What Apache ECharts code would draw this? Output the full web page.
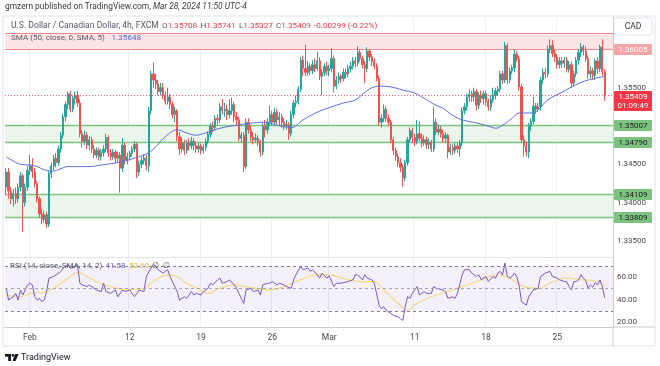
<!DOCTYPE html>
<html><head><meta charset="utf-8">
<script src="https://cdn.jsdelivr.net/npm/echarts@6/dist/echarts.min.js"></script>
<style>html,body{margin:0;padding:0;background:#fff}#c{width:660px;height:366px}</style>
</head><body><div id="c"></div>
<script>
// ---- data ----
// each candle: [open, high, low, close], 4h bars from Tue Jan 30 09:00 to Thu Mar 28 09:00 (UTC-4)
const candles = [
[1.3420,1.3445,1.3410,1.3440],[1.3440,1.3445,1.3405,1.3415],[1.3415,1.3420,1.3398,1.3405],[1.3405,1.3418,1.3395,1.3412],[1.3412,1.3420,1.3398,1.3405],
[1.3405,1.3425,1.3400,1.3420],[1.3420,1.3440,1.3415,1.3435],[1.3435,1.3438,1.3362,1.3400],[1.3400,1.3425,1.3395,1.3420],[1.3420,1.3448,1.3415,1.3442],
[1.3442,1.3462,1.3436,1.3448],[1.3448,1.3458,1.3432,1.3440],[1.3440,1.3445,1.3420,1.3425],[1.3425,1.3428,1.3400,1.3405],[1.3405,1.3408,1.3380,1.3385],
[1.3385,1.3392,1.3372,1.3378],[1.3378,1.3390,1.3374,1.3384],[1.3384,1.3388,1.3367,1.3372],[1.3372,1.3442,1.3368,1.3438],[1.3438,1.3452,1.3432,1.3448],
[1.3448,1.3462,1.3442,1.3458],[1.3458,1.3465,1.3446,1.3452],[1.3452,1.3474,1.3448,1.3470],[1.3470,1.3492,1.3465,1.3488],[1.3488,1.3516,1.3484,1.3512],
[1.3512,1.3532,1.3506,1.3528],[1.3528,1.3545,1.3522,1.3542],[1.3542,1.3546,1.3518,1.3522],[1.3522,1.3540,1.3518,1.3536],[1.3536,1.3545,1.3528,1.3540],
[1.3540,1.3546,1.3525,1.3530],[1.3530,1.3535,1.3485,1.3490],[1.3490,1.3495,1.3472,1.3480],[1.3480,1.3494,1.3475,1.3488],[1.3488,1.3492,1.3470,1.3475],
[1.3475,1.3487,1.3468,1.3482],[1.3482,1.3486,1.3465,1.3470],[1.3470,1.3475,1.3458,1.3462],[1.3462,1.3472,1.3458,1.3468],[1.3468,1.3472,1.3455,1.3460],
[1.3460,1.3470,1.3455,1.3465],[1.3465,1.3475,1.3460,1.3470],[1.3470,1.3490,1.3466,1.3485],[1.3485,1.3488,1.3460,1.3465],[1.3465,1.3470,1.3455,1.3460],
[1.3460,1.3470,1.3456,1.3466],[1.3466,1.3469,1.3452,1.3458],[1.3458,1.3467,1.3453,1.3462],[1.3462,1.3466,1.3413,1.3445],[1.3445,1.3484,1.3440,1.3475],
[1.3475,1.3478,1.3450,1.3455],[1.3455,1.3465,1.3450,1.3460],[1.3460,1.3468,1.3455,1.3464],[1.3464,1.3474,1.3460,1.3470],[1.3470,1.3480,1.3466,1.3476],
[1.3476,1.3478,1.3432,1.3440],[1.3440,1.3455,1.3435,1.3450],[1.3450,1.3460,1.3445,1.3455],[1.3455,1.3463,1.3450,1.3458],[1.3458,1.3462,1.3442,1.3448],
[1.3448,1.3525,1.3440,1.3520],[1.3520,1.3572,1.3515,1.3568],[1.3568,1.3583,1.3550,1.3560],[1.3560,1.3568,1.3548,1.3555],[1.3555,1.3560,1.3540,1.3545],
[1.3545,1.3556,1.3540,1.3550],[1.3550,1.3556,1.3535,1.3540],[1.3540,1.3545,1.3528,1.3532],[1.3532,1.3550,1.3528,1.3538],[1.3538,1.3542,1.3522,1.3528],
[1.3528,1.3532,1.3510,1.3515],[1.3515,1.3525,1.3505,1.3520],[1.3520,1.3522,1.3480,1.3486],[1.3486,1.3492,1.3462,1.3470],
[1.3470,1.3485,1.3465,1.3478],[1.3478,1.3482,1.3462,1.3468],[1.3468,1.3482,1.3464,1.3478],[1.3478,1.3484,1.3468,1.3474],[1.3474,1.3486,1.3470,1.3480],
[1.3480,1.3484,1.3468,1.3475],[1.3475,1.3480,1.3465,1.3470],[1.3470,1.3478,1.3465,1.3474],[1.3474,1.3477,1.3463,1.3468],[1.3468,1.3476,1.3464,1.3472],
[1.3472,1.3484,1.3468,1.3480],[1.3480,1.3493,1.3476,1.3489],[1.3489,1.3504,1.3485,1.3500],[1.3500,1.3506,1.3492,1.3498],[1.3498,1.3514,1.3494,1.3510],
[1.3510,1.3515,1.3502,1.3508],[1.3508,1.3530,1.3504,1.3525],[1.3525,1.3535,1.3515,1.3520],[1.3520,1.3530,1.3512,1.3522],[1.3522,1.3528,1.3508,1.3515],
[1.3515,1.3535,1.3510,1.3520],[1.3520,1.3537,1.3515,1.3528],[1.3528,1.3532,1.3505,1.3512],[1.3512,1.3518,1.3500,1.3508],[1.3508,1.3512,1.3480,1.3484],
[1.3484,1.3492,1.3478,1.3488],[1.3488,1.3492,1.3440,1.3447],[1.3447,1.3510,1.3444,1.3505],[1.3505,1.3510,1.3490,1.3495],[1.3495,1.3500,1.3480,1.3486],
[1.3486,1.3492,1.3476,1.3482],[1.3482,1.3490,1.3478,1.3484],[1.3484,1.3488,1.3474,1.3478],[1.3478,1.3482,1.3460,1.3466],[1.3466,1.3504,1.3462,1.3500],
[1.3500,1.3508,1.3485,1.3495],[1.3495,1.3510,1.3490,1.3505],[1.3505,1.3527,1.3500,1.3515],[1.3515,1.3520,1.3500,1.3505],[1.3505,1.3524,1.3500,1.3518],
[1.3518,1.3522,1.3502,1.3508],[1.3508,1.3518,1.3500,1.3512],[1.3512,1.3516,1.3498,1.3505],[1.3505,1.3510,1.3495,1.3500],[1.3500,1.3508,1.3495,1.3502],
[1.3502,1.3505,1.3482,1.3490],[1.3490,1.3520,1.3486,1.3515],[1.3515,1.3534,1.3510,1.3530],[1.3530,1.3540,1.3524,1.3532],[1.3532,1.3552,1.3528,1.3548],
[1.3548,1.3590,1.3544,1.3586],[1.3586,1.3592,1.3565,1.3575],[1.3575,1.3606,1.3565,1.3570],[1.3570,1.3585,1.3566,1.3578],[1.3578,1.3582,1.3566,1.3572],
[1.3572,1.3586,1.3568,1.3580],[1.3580,1.3588,1.3570,1.3575],[1.3575,1.3597,1.3572,1.3585],[1.3585,1.3590,1.3560,1.3565],[1.3565,1.3574,1.3540,1.3570],
[1.3570,1.3582,1.3565,1.3578],[1.3578,1.3584,1.3566,1.3572],[1.3572,1.3580,1.3565,1.3575],[1.3575,1.3602,1.3570,1.3588],[1.3588,1.3592,1.3544,1.3552],
[1.3552,1.3565,1.3548,1.3560],[1.3560,1.3570,1.3555,1.3565],[1.3565,1.3568,1.3556,1.3562],[1.3562,1.3575,1.3558,1.3570],[1.3570,1.3575,1.3562,1.3568],
[1.3568,1.3580,1.3564,1.3575],[1.3575,1.3584,1.3570,1.3578],[1.3578,1.3590,1.3574,1.3585],[1.3585,1.3590,1.3576,1.3582],[1.3582,1.3604,1.3578,1.3596],
[1.3596,1.3600,1.3584,1.3588],[1.3588,1.3592,1.3575,1.3580],[1.3580,1.3585,1.3556,1.3575],[1.3575,1.3603,1.3570,1.3598],[1.3598,1.3600,1.3585,1.3590],
[1.3590,1.3594,1.3578,1.3584],[1.3584,1.3588,1.3574,1.3578],[1.3578,1.3582,1.3558,1.3562],[1.3562,1.3566,1.3500,1.3505],[1.3505,1.3515,1.3498,1.3510],
[1.3510,1.3528,1.3505,1.3522],[1.3522,1.3526,1.3505,1.3510],[1.3510,1.3515,1.3500,1.3505],[1.3505,1.3508,1.3478,1.3482],[1.3482,1.3486,1.3462,1.3468],
[1.3468,1.3472,1.3455,1.3460],[1.3460,1.3464,1.3446,1.3452],[1.3452,1.3458,1.3440,1.3446],[1.3446,1.3450,1.3421,1.3432],[1.3432,1.3456,1.3428,1.3452],
[1.3452,1.3486,1.3448,1.3482],[1.3482,1.3498,1.3478,1.3494],[1.3494,1.3498,1.3478,1.3485],[1.3485,1.3490,1.3474,1.3480],[1.3480,1.3508,1.3476,1.3490],
[1.3490,1.3506,1.3480,1.3484],[1.3484,1.3490,1.3472,1.3478],[1.3478,1.3488,1.3474,1.3482],[1.3482,1.3486,1.3470,1.3476],[1.3476,1.3484,1.3470,1.3479],
[1.3479,1.3482,1.3466,1.3470],[1.3470,1.3525,1.3466,1.3505],[1.3505,1.3510,1.3488,1.3492],[1.3492,1.3502,1.3488,1.3496],[1.3496,1.3500,1.3485,1.3490],
[1.3490,1.3495,1.3478,1.3484],[1.3484,1.3492,1.3478,1.3488],[1.3488,1.3490,1.3458,1.3466],[1.3466,1.3477,1.3462,1.3472],[1.3472,1.3476,1.3462,1.3468],
[1.3468,1.3478,1.3464,1.3474],[1.3474,1.3478,1.3465,1.3470],[1.3470,1.3482,1.3460,1.3478],[1.3478,1.3524,1.3474,1.3520],[1.3520,1.3530,1.3515,1.3525],
[1.3525,1.3542,1.3520,1.3538],[1.3538,1.3548,1.3532,1.3542],[1.3542,1.3546,1.3532,1.3538],[1.3538,1.3550,1.3532,1.3545],[1.3545,1.3548,1.3520,1.3527],
[1.3527,1.3544,1.3522,1.3540],[1.3540,1.3546,1.3530,1.3536],[1.3536,1.3546,1.3528,1.3542],[1.3542,1.3546,1.3526,1.3532],[1.3532,1.3536,1.3520,1.3525],
[1.3525,1.3540,1.3520,1.3535],[1.3535,1.3550,1.3530,1.3540],[1.3540,1.3550,1.3535,1.3546],[1.3546,1.3552,1.3540,1.3548],[1.3548,1.3572,1.3544,1.3568],
[1.3568,1.3572,1.3555,1.3560],[1.3560,1.3610,1.3556,1.3605],[1.3605,1.3608,1.3555,1.3560],[1.3560,1.3576,1.3556,1.3572],[1.3572,1.3580,1.3568,1.3576],
[1.3576,1.3600,1.3570,1.3594],[1.3594,1.3598,1.3584,1.3588],[1.3588,1.3592,1.3546,1.3551],[1.3551,1.3555,1.3478,1.3482],[1.3482,1.3488,1.3460,1.3474],
[1.3474,1.3480,1.3460,1.3466],[1.3466,1.3504,1.3458,1.3500],[1.3500,1.3510,1.3494,1.3506],[1.3506,1.3538,1.3502,1.3526],[1.3526,1.3530,1.3516,1.3522],
[1.3522,1.3530,1.3518,1.3525],[1.3525,1.3564,1.3520,1.3560],[1.3560,1.3575,1.3555,1.3570],[1.3570,1.3576,1.3562,1.3568],[1.3568,1.3605,1.3564,1.3600],
[1.3600,1.3613,1.3595,1.3605],[1.3605,1.3612,1.3590,1.3595],[1.3595,1.3600,1.3584,1.3590],[1.3590,1.3594,1.3575,1.3580],[1.3580,1.3590,1.3575,1.3585],
[1.3585,1.3590,1.3576,1.3582],[1.3582,1.3590,1.3576,1.3586],[1.3586,1.3590,1.3570,1.3574],[1.3574,1.3585,1.3570,1.3580],[1.3580,1.3584,1.3550,1.3556],
[1.3556,1.3572,1.3552,1.3568],[1.3568,1.3590,1.3564,1.3586],[1.3586,1.3600,1.3580,1.3596],[1.3596,1.3608,1.3590,1.3603],[1.3603,1.3606,1.3592,1.3598],
[1.3598,1.3604,1.3584,1.3588],[1.3588,1.3592,1.3562,1.3568],[1.3568,1.3578,1.3562,1.3572],[1.3572,1.3576,1.3560,1.3566],[1.3566,1.3588,1.3560,1.3585],
[1.3585,1.3590,1.3568,1.3575],[1.3575,1.3606,1.3570,1.3603],[1.3603,1.3613,1.3566,1.3571],[1.35708,1.35741,1.35327,1.35409]
];
// SMA(50) readings: [bar index, value]
const smaPoints = [[0,1.3460],[2,1.3456],[6,1.3450],[10,1.3449],[13,1.3447],[16,1.3443],[19,1.3441],[22,1.3443],[26,1.3447],[30,1.3447],[35,1.3447],[40,1.3449],[48,1.3453],[56,1.3460],[60,1.3465],[63,1.3473],[67,1.3486],[72,1.3495],[76,1.3491],[80,1.3488],[84,1.3491],[90,1.3497],[97,1.3501],[104,1.3504],[109,1.3505],[114,1.3501],[120,1.3498],[125,1.3508],[131,1.3518],[137,1.3525],[142,1.3530],[147,1.3534],[151,1.3544],[155,1.3551],[158,1.3552],[162,1.3551],[167,1.3547],[172,1.3543],[176,1.3536],[181,1.3527],[184,1.3523],[188,1.3514],[192,1.3508],[198,1.3504],[204,1.3499],[206,1.3497],[209,1.3501],[213,1.3510],[216,1.3517],[221,1.3517],[224,1.3521],[228,1.3534],[234,1.3544],[240,1.3554],[245,1.3560],[252,1.35648]];
// RSI(14) readings
const rsiPoints = [[0,50],[1,39.5],[3,42.5],[4,45.5],[5,39.5],[6,48.5],[7,44],[9,53],[10,54.5],[11,53],[12,42.5],[13,39.5],[14,41],[15,38],[16,39.5],[17,47],[18,59],[20,60.5],[21,62],[23,65],[24,68],[26,71],[27,68],[28,68],[30,71],[31,54.5],[32,53],[34,51.5],[35,53],[37,50],[38,48.5],[40,47],[41,54.5],[42,47],[44,45.5],[46,48.5],[47,42.5],[49,48.5],[50,47],[52,48.5],[54,42.5],[56,48.5],[58,47],[59,60.5],[61,68],[62,71],[63,69.5],[64,66.5],[66,63.5],[68,66.5],[69,60.5],[70,56],[72,47],[73,39.5],[75,42.5],[76,41],[78,47],[79,44],[80,45.5],[82,44],[83,47],[85,50],[86,54.5],[87,53],[89,57.5],[90,59],[91,54.5],[93,56],[94,57.5],[96,53],[97,50],[98,45.5],[100,36.5],[101,48.5],[103,50],[104,47],[106,48.5],[107,44],[108,53],[110,54.5],[111,54.5],[112,56],[114,53],[115,54.5],[117,53],[118,51.5],[120,50],[121,57.5],[122,62],[124,69.5],[125,66.5],[127,68],[128,65],[129,66.5],[131,62],[132,59],[133,63.5],[135,59],[136,61],[138,51.5],[139,54.5],[141,54.5],[144,56],[146,57.5],[147,62],[148,62],[150,57.5],[151,62],[152,59],[154,57.5],[155,54.5],[157,35],[158,32],[159,33.5],[160,30.5],[162,27.5],[163,26],[165,24.5],[166,23],[167,21.5],[168,33.5],[169,42.5],[170,41],[171,45.5],[173,51.5],[174,44],[176,47],[177,45.5],[179,45.5],[180,51.5],[181,50],[184,48.5],[185,47],[186,41],[188,42.5],[189,41],[190,45.5],[192,62],[193,66.5],[195,66.5],[196,63.5],[198,60.5],[199,62],[200,57.5],[202,60.5],[203,56],[205,60.5],[206,59],[207,63.5],[208,65],[209,62],[210,72.5],[211,60.5],[212,59],[213,60.5],[214,63.5],[215,60.5],[216,52],[217,38],[218,36.5],[219,35],[220,42.5],[222,48.5],[224,50],[225,60.5],[227,63.5],[229,65],[230,60.5],[232,59],[233,57.5],[235,56],[236,56],[237,51.5],[238,48.5],[239,56],[240,56],[241,57.5],[242,62],[243,59],[244,57],[245,50],[246,53],[247,51],[248,55],[249,53],[250,57.5],[251,51.5],[252,41.58]];
// RSI-based MA readings
const rsiMaPoints = [[0,44],[6,42.5],[11,45.5],[17,47],[23,54.5],[27,60.5],[30,64],[34,60.5],[38,56],[44,51.5],[51,48.5],[58,50],[62,56],[68,62],[72,60.5],[76,54.5],[82,48.5],[85,45.5],[90,50],[96,53],[101,51.5],[110,48.5],[117,51.5],[124,57.5],[131,62],[136,62],[144,57.5],[150,56],[155,56],[159,48.5],[165,36.5],[169,30.5],[173,36.5],[179,42.5],[186,47],[192,51.5],[200,57.5],[207,62],[212,59],[218,51.5],[224,50],[229,54.5],[235,59],[243,57.5],[249,56],[252,52.6]];
const tickDates = ['2024-02-01','2024-02-12','2024-02-19','2024-02-26','2024-03-01','2024-03-11','2024-03-18','2024-03-25'];
const tickLabels = ['Feb','12','19','26','Mar','11','18','25'];
const priceTicks = [1.335,1.340,1.345,1.350,1.355,1.360];
const rsiTicks = [20,40,60];
const rsiLevels = [70,50,30];
const redZone = [1.36005,1.36214];
const greenZones = [[1.35007,1.34790],[1.34109,1.33809]];
const lastPrice = 1.35409;
const countdown = '01:09:49';

// ---- categories (4h forex bars, UTC-4) ----
const sched = [[17,21],[1,5,9,13,17,21],[1,5,9,13,17,21],[1,5,9,13,17,21],[1,5,9,13,17,21],[1,5,9,13],[]];
const cats = [];
let t = Date.UTC(2024,0,30), first = true;
while (cats.length < candles.length + 3) {
  const d = new Date(t), ds = d.toISOString().slice(0,10);
  for (const h of sched[d.getUTCDay()]) {
    if (first && h < 9) continue;
    if (cats.length < candles.length + 3) cats.push(ds + ' ' + String(h).padStart(2,'0') + ':00');
  }
  first = false; t += 86400000;
}
const tickIdx = tickDates.map(td => cats.findIndex(c => c.startsWith(td)));
const isTick = (i) => tickIdx.indexOf(i) >= 0;
const labelOf = (i) => { const k = tickIdx.indexOf(i); return k >= 0 ? tickLabels[k] : ''; };

const FONT = 'Roboto';
const UP = '#26a69a', DOWN = '#ef5350';

// level lines: [x(any), price, kind]  kind 0: red zone edge (no label), 1: red zone edge + label, 2: green zone edge + label, 3: last price
const levelData = [[0, redZone[1], 0], [0, redZone[0], 1]];
greenZones.forEach(z => z.forEach(v => levelData.push([0, v, 2])));
levelData.push([0, lastPrice, 3]);
const KIND = [
  {line:'#f28b8f', w:1, bg:null},
  {line:'#f28b8f', w:1, bg:'#f6a3a6', fg:'#ffffff'},
  {line:'#7cc381', w:1.5, bg:'#7cc381', fg:'#1b1b1b'},
  {line:'#f23645', w:1, dash:[1,2], bg:'#f23645', fg:'#ffffff', two:true}
];
function renderLevel(withLabels) {
  return function(params, api) {
    const cs = params.coordSys, v = api.value(1), k = api.value(2), st = KIND[k];
    const y = Math.round(api.coord([0, v])[1]) + 0.5, x0 = cs.x, x1 = cs.x + cs.width;
    const ch = [];
    if (!withLabels && k !== 3) ch.push({type:'line', shape:{x1:x0, y1:y, x2:x1, y2:y}, style:{stroke:st.line, lineWidth:st.w}});
    if (withLabels && k === 3) ch.push({type:'line', shape:{x1:x0, y1:y, x2:x1, y2:y}, style:{stroke:st.line, lineWidth:1, lineDash:st.dash, opacity:0.8}});
    if (withLabels && st.bg) {
      const top = st.two ? y - 4.5 : y - 5.5, h = st.two ? 20 : 11;
      ch.push({type:'rect', shape:{x:x1 + 1, y:top, width:38, height:h, r:1}, style:{fill:st.bg}});
      ch.push({type:'text', style:{x:x1 + 20, y:top + 5.5, text:v.toFixed(5), fill:st.fg, font:'8px ' + FONT, align:'center', verticalAlign:'middle'}});
      if (st.two) ch.push({type:'text', style:{x:x1 + 20, y:top + 15, text:countdown, fill:st.fg, font:'8px ' + FONT, align:'center', verticalAlign:'middle'}});
    }
    return {type:'group', children:ch};
  };
}

const chart = echarts.init(document.getElementById('c'), null, {renderer:'canvas'});
chart.setOption({
  animation:false,
  backgroundColor:'#ffffff',
  textStyle:{fontFamily:FONT},
  grid:[{left:5, right:47, top:16, height:241},{left:5, right:47, top:257, height:70}],
  xAxis:[
    {type:'category', gridIndex:0, data:cats, axisLine:{show:true, lineStyle:{color:'#e0e3eb'}}, axisTick:{show:false}, axisLabel:{show:false},
     splitLine:{show:true, interval:(i)=>isTick(i), lineStyle:{color:'#eef0f5'}}},
    {type:'category', gridIndex:1, data:cats, axisLine:{show:true, lineStyle:{color:'#c8cbd3'}}, axisTick:{show:false},
     axisLabel:{interval:(i)=>isTick(i), formatter:(v,i)=>labelOf(i), color:'#4a4a4a', fontSize:8.5, margin:6, fontFamily:FONT},
     splitLine:{show:true, interval:(i)=>isTick(i), lineStyle:{color:'#eef0f5'}}}
  ],
  yAxis:[
    {type:'value', gridIndex:0, position:'right', min:1.332898, max:1.36436, axisLine:{show:true, lineStyle:{color:'#c8cbd3'}}, axisTick:{show:false}, splitLine:{show:false},
     axisLabel:{customValues:priceTicks, formatter:(v)=>v.toFixed(5), color:'#4a4a4a', fontSize:8, margin:4, fontFamily:FONT}},
    {type:'value', gridIndex:1, position:'right', min:15.6, max:77.8, axisLine:{show:true, lineStyle:{color:'#c8cbd3'}}, axisTick:{show:false}, splitLine:{show:false},
     axisLabel:{customValues:rsiTicks, formatter:(v)=>v.toFixed(2), color:'#4a4a4a', fontSize:8, margin:4, fontFamily:FONT}}
  ],
  series:[
    {name:'zones', type:'line', xAxisIndex:0, yAxisIndex:0, data:[], z:1, silent:true,
     markArea:{silent:true, data:[
       [{yAxis:redZone[0], itemStyle:{color:'#fde5e6'}},{yAxis:redZone[1]}],
       [{yAxis:greenZones[0][0], itemStyle:{color:'#eaf6eb'}},{yAxis:greenZones[0][1]}],
       [{yAxis:greenZones[1][0], itemStyle:{color:'#eaf6eb'}},{yAxis:greenZones[1][1]}]
     ]}},
    {name:'levels', type:'custom', xAxisIndex:0, yAxisIndex:0, z:2, silent:true, clip:false, data:levelData, renderItem:renderLevel(false)},
    {name:'USDCAD', type:'candlestick', xAxisIndex:0, yAxisIndex:0, z:3, barWidth:1.8,
     data:candles.map(r=>[r[0],r[3],r[2],r[1]]),
     itemStyle:{color:UP, color0:DOWN, borderColor:UP, borderColor0:DOWN, borderWidth:1}},
    {name:'SMA', type:'line', xAxisIndex:0, yAxisIndex:0, z:4, data:smaPoints, smooth:0.4, showSymbol:false,
     lineStyle:{color:'#5a6ee0', width:1}},
    {name:'labels', type:'custom', xAxisIndex:0, yAxisIndex:0, z:10, silent:true, clip:false, data:levelData, renderItem:renderLevel(true)},
    {name:'RSI', type:'line', xAxisIndex:1, yAxisIndex:1, z:4, data:rsiPoints, showSymbol:false,
     lineStyle:{color:'#7e57c2', width:1},
     markArea:{silent:true, data:[[{yAxis:30, itemStyle:{color:'rgba(126,87,194,0.09)'}},{yAxis:70}]]},
     markLine:{silent:true, symbol:'none', data:rsiLevels.map(v=>({yAxis:v, label:{show:false},
       lineStyle:{color:v===50?'#a3a6ae':'#7f828c', width:1, type:[3,3]}}))}},
    {name:'RSI MA', type:'line', xAxisIndex:1, yAxisIndex:1, z:3, data:rsiMaPoints, smooth:0.4, showSymbol:false,
     lineStyle:{color:'#f1dc86', width:1.2}}
  ],
  graphic:[
    {type:'rect', shape:{x:3, y:16, width:652, height:330}, style:{fill:null, stroke:'#e0e3eb', lineWidth:1}, silent:true, z:-10},
    {type:'line', shape:{x1:613, y1:327, x2:613, y2:346}, style:{stroke:'#c8cbd3', lineWidth:1}, silent:true},
    {type:'line', shape:{x1:613, y1:327, x2:655, y2:327}, style:{stroke:'#c8cbd3', lineWidth:1}, silent:true},
    {type:'text', x:5, y:7, style:{text:'{a|gmzern published on TradingView.com, }{b|Mar 28, 2024 11:50 UTC-4}', verticalAlign:'middle',
      rich:{a:{fill:'#3b3b3b', fontSize:8.4, fontFamily:FONT}, b:{fill:'#3b3b3b', fontSize:8.4, fontFamily:FONT, fontStyle:'italic'}}}},
    {type:'text', x:11, y:26, z:20, style:{verticalAlign:'middle',
      text:'{g|U.S. Dollar / Canadian Dollar, 4h, FXCM} {s|O}{r|1.35708} {s|H}{r|1.35741} {s|L}{r|1.35327} {s|C}{r|1.35409} {r|-0.00299 (-0.22%)}',
      rich:{g:{fill:'#555a66', fontSize:8.6, fontFamily:FONT}, s:{fill:'#555a66', fontSize:8.1, fontFamily:FONT}, r:{fill:'#f23645', fontSize:8.1, fontFamily:FONT}}}},
    {type:'text', x:11, y:38, z:20, style:{verticalAlign:'middle',
      text:'{g|SMA (50, close, 0, SMA, 5)}  {b|1.35648}',
      rich:{g:{fill:'#555a66', fontSize:8.1, fontFamily:FONT}, b:{fill:'#4a63e0', fontSize:8.1, fontFamily:FONT}}}},
    {type:'text', x:10, y:266, z:20, style:{verticalAlign:'middle',
      text:'{g|RSI (14, close, SMA, 14, 2)} {p|41.58} {y|52.60} {g|∅} {g|∅}',
      rich:{g:{fill:'#555a66', fontSize:8, fontFamily:FONT}, p:{fill:'#7e57c2', fontSize:8, fontFamily:FONT}, y:{fill:'#e0c040', fontSize:8, fontFamily:FONT}}}},
    {type:'rect', shape:{x:614, y:18, width:38, height:17, r:2}, style:{fill:'#ffffff', stroke:'#e0e3eb', lineWidth:1}, z:20},
    {type:'text', x:633, y:27, z:21, style:{text:'CAD', fill:'#333333', fontSize:8.5, fontFamily:FONT, align:'center', verticalAlign:'middle'}},
    {type:'rect', shape:{x:5, y:354, width:6, height:2.6}, style:{fill:'#131722'}},
    {type:'rect', shape:{x:8.2, y:354, width:2.8, height:7}, style:{fill:'#131722'}},
    {type:'circle', shape:{cx:13, cy:355.4, r:1.4}, style:{fill:'#131722'}},
    {type:'polygon', shape:{points:[[15.2,354],[18.6,354],[15.6,361],[12.4,361]]}, style:{fill:'#131722'}},
    {type:'text', x:21, y:357.5, style:{text:'TradingView', fill:'#131722', fontSize:9, fontFamily:FONT, verticalAlign:'middle'}}
  ]
});
</script></body></html>
